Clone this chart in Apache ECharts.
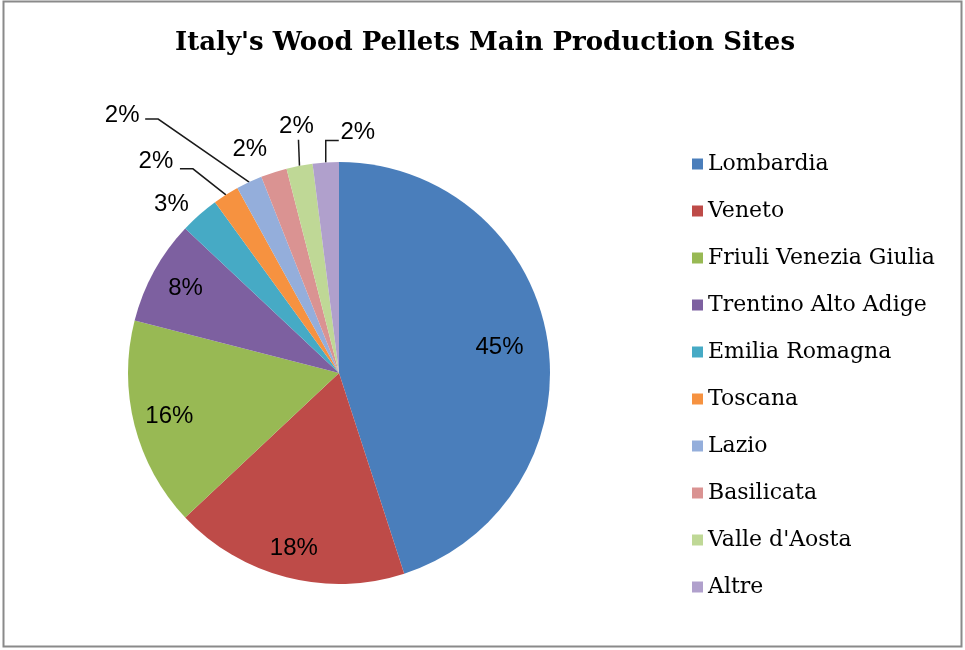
<!DOCTYPE html>
<html>
<head>
<meta charset="utf-8">
<script src="https://cdn.jsdelivr.net/npm/echarts@6/dist/echarts.min.js"></script>
<style>
  html, body { margin: 0; padding: 0; background: #fff; }
  #chart { width: 965px; height: 650px; }
</style>
</head>
<body>
<div id="chart"></div>
<script>
// regioni e quote (%)
const regions = ['Lombardia', 'Veneto', 'Friuli Venezia Giulia', 'Trentino Alto Adige', 'Emilia Romagna',
  'Toscana', 'Lazio', 'Basilicata', "Valle d'Aosta", 'Altre'];
const shares = [45, 18, 16, 8, 3, 2, 2, 2, 2, 2];
const colors = ['#4A7EBB', '#BE4B48', '#98B954', '#7D60A0', '#46AAC5',
  '#F69240', '#94AEDB', '#DA9392', '#BFD896', '#B0A0CC'];

const cx = 339, cy = 373, R = 211;
const total = shares.reduce((a, b) => a + b, 0);

// angolo medio di ogni fetta (clockwise dalle 12)
const midAngle = i => {
  let before = 0;
  for (let k = 0; k < i; k++) before += shares[k];
  return (before + shares[i] / 2) / total * Math.PI * 2;
};
const onRadius = (i, r) => {
  const a = midAngle(i);
  return [cx + r * Math.sin(a), cy - r * Math.cos(a)];
};

// etichette esterne: offset dal bordo della fetta, e punti della linea guida
const outer = {
  4: { off: [-28, -10] },
  5: { off: [-70, -33], line: [[-33, -26], [-46, -26]] },
  6: { off: [-127, -67], line: [[-91, -63], [-104, -63]] },
  7: { off: [-24, -23] },
  8: { off: [-3, -39], line: [[-1, -26]] },
  9: { off: [32, -30], line: [[0, -22], [13, -22]] }
};
const innerFrac = [0.77, 0.86, 0.83, 0.83];

const chart = echarts.init(document.getElementById('chart'));

chart.setOption({
  backgroundColor: '#fff',
  animation: false,
  title: {
    text: "Italy's Wood Pellets Main Production Sites",
    left: 480,
    top: 25,
    textAlign: 'center',
    textStyle: { fontFamily: 'DejaVu Serif', fontWeight: 'bold', fontSize: 26, color: '#000' }
  },
  legend: {
    orient: 'vertical',
    left: 687,
    top: 148,
    itemWidth: 11,
    itemHeight: 11,
    itemGap: 25,
    icon: 'rect',
    textStyle: { fontFamily: 'DejaVu Serif', fontSize: 22, color: '#000', padding: [0, 0, 0, 0] }
  },
  graphic: [{
    type: 'rect',
    shape: { x: 3.5, y: 1.5, width: 958, height: 645 },
    style: { fill: 'none', stroke: '#8a8a8a', lineWidth: 2 }
  }],
  series: [{
    type: 'pie',
    center: [cx, cy],
    radius: R,
    startAngle: 90,
    clockwise: true,
    avoidLabelOverlap: false,
    itemStyle: { borderWidth: 0 },
    label: {
      formatter: '{d}%',
      fontFamily: 'Liberation Sans',
      fontSize: 24,
      color: '#000'
    },
    labelLine: { lineStyle: { color: '#1a1a1a', width: 1.5 } },
    labelLayout: p => {
      const i = p.dataIndex;
      if (i < 4) {
        const [x, y] = onRadius(i, R * innerFrac[i]);
        return { x, y, align: 'center', verticalAlign: 'middle' };
      }
      const o = outer[i];
      const [ex, ey] = onRadius(i, R);
      const res = { x: ex + o.off[0], y: ey + o.off[1], align: 'center', verticalAlign: 'middle' };
      if (o.line) {
        res.labelLinePoints = [[ex, ey]].concat(o.line.map(q => [ex + q[0], ey + q[1]]));
      }
      return res;
    },
    data: regions.map((name, i) => ({
      name,
      value: shares[i],
      itemStyle: { color: colors[i] },
      label: { position: i < 4 ? 'inside' : 'outside' },
      labelLine: { show: !!(outer[i] && outer[i].line) }
    }))
  }]
});
</script>
</body>
</html>
